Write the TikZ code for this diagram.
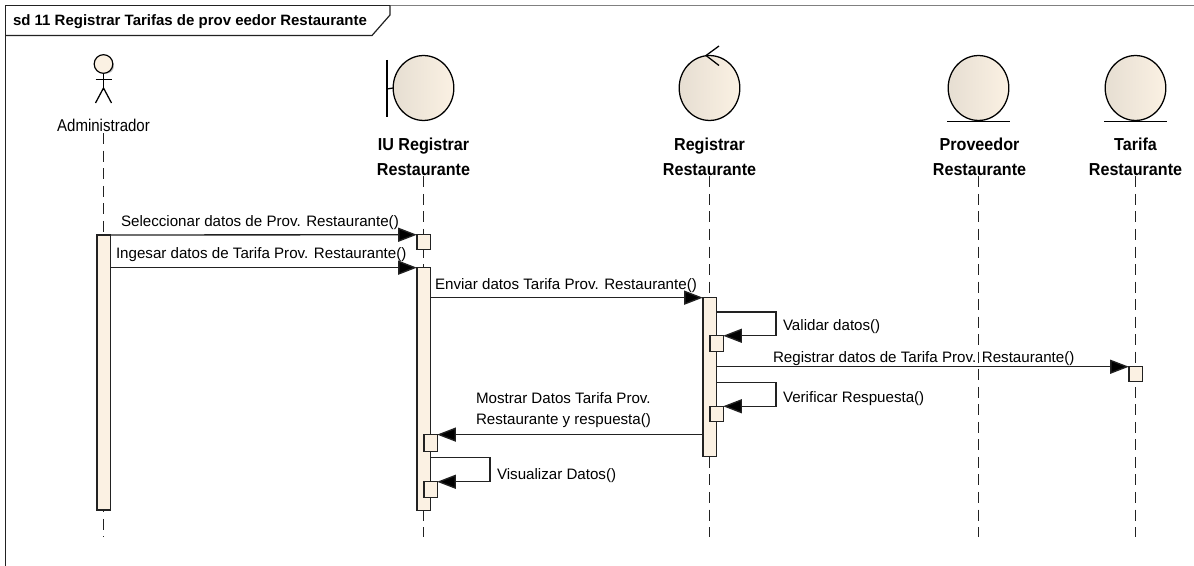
\documentclass[tikz,border=0pt]{standalone}
\usepackage{fontspec}
\setmainfont{Liberation Sans}
\newfontfamily\namefont[FakeStretch=0.93]{Liberation Sans Bold}
\newfontfamily\actfont[FakeStretch=0.88]{Liberation Sans}
\usetikzlibrary{arrows.meta,shapes.geometric,calc}
\definecolor{bodyfill}{HTML}{FBF1E3}
\definecolor{bodyshade}{HTML}{E6DED2}
\definecolor{inkline}{HTML}{222222}
\tikzset{
  x=0.75pt,y=-0.75pt,
  every node/.style={inner sep=0pt,outer sep=0pt},
  framed/.style={draw=inkline,line width=0.9pt},
  lifeline/.style={draw=inkline,line width=1.1pt,dash pattern=on 8.25pt off 4.9pt},
  actbox/.style={draw=inkline,line width=1pt,fill=bodyfill,rectangle,minimum width=10pt},
  msg/.style={draw=inkline,line width=1pt,-{Triangle[length=14pt,width=10.5pt,fill=black]}},
  txt/.style={font=\fontsize{11.35}{16}\selectfont,text=black,anchor=base west},
  elem/.style={draw=black,line width=0.95pt,ellipse,minimum width=45.5pt,minimum height=48.7pt,left color=bodyshade,middle color=bodyfill,right color=bodyfill},
  elemname/.style={font=\namefont\fontsize{13}{18.5}\selectfont,align=center,anchor=north},
  plainline/.style={draw=black,line width=0.95pt},
}
\begin{document}
\begin{tikzpicture}
\useasboundingbox (0,0) rectangle (1194,566);
\fill[white] (0,0) rectangle (1194,566);

% frame
\coordinate (frameTL) at (5.5,5.5);
\coordinate (frameBL) at (5.5,566);
\coordinate (frameTR) at (1194,5.5);
\coordinate (tabA) at (5.5,35.5);
\coordinate (tabB) at (372,35.5);
\coordinate (tabC) at (390,15);
\coordinate (tabD) at (390,5.5);
\draw[framed] (frameBL) -- (frameTL) -- (tabD);
\draw[draw=gray,line width=0.9pt] (tabD) -- (frameTR);
\draw[framed] (tabA) -- (tabB) -- (tabC) -- (tabD);
\node[font=\bfseries\fontsize{11.25}{13}\selectfont,anchor=base west] (title) at (13,26) {sd 11 Registrar Tarifas de prov eedor Restaurante};

% actor
\fill[gray!50] (106.5,66) circle (7.5);
\node[circle,draw=black,line width=0.9pt,fill=bodyfill,minimum size=14pt] (head) at (103.5,64) {};
\coordinate (hip) at (103.5,88);
\coordinate (armL) at (95.5,79.5);
\coordinate (armR) at (111.5,79.5);
\coordinate (footL) at (95.5,103);
\coordinate (footR) at (111.5,103);
\draw[plainline] (head.south) -- (hip);
\draw[plainline] (armL) -- (armR);
\draw[plainline] (footL) -- (hip) -- (footR);
\node[font=\actfont\fontsize{12.8}{15}\selectfont,anchor=base] (admin) at (103.5,132) {Administrador};

% boundary
\node[elem] (iu) at (423.5,88) {};
\coordinate (barT) at (387,60);
\coordinate (barB) at (387,117.5);
\coordinate (barM) at (387,89);
\draw[plainline] (barT) -- (barB);
\draw[plainline] (barM) -- (iu.west);
\node[elemname] (iuName) at (423.5,138) {IU Registrar\\Restaurante};

% control
\node[elem] (ctl) at (709.5,88) {};
\coordinate (ctlTip) at (706,55.5);
\coordinate (ctlU) at (719,46);
\coordinate (ctlD) at (719,65.5);
\draw[plainline] (ctlU) -- (ctlTip) -- (ctlD);
\node[elemname] (ctlName) at (709.5,138) {Registrar\\Restaurante};

% entities
\node[elem] (prov) at (978.5,88) {};
\coordinate (provL) at (947,121.5);
\coordinate (provR) at (1010,121.5);
\draw[plainline] (provL) -- (provR);
\node[elemname] (provName) at (979.5,138) {Proveedor\\Restaurante};

\node[elem] (tar) at (1135.5,88) {};
\coordinate (tarL) at (1104,121.5);
\coordinate (tarR) at (1167,121.5);
\draw[plainline] (tarL) -- (tarR);
\node[elemname] (tarName) at (1135.5,138) {Tarifa\\Restaurante};

% lifelines
\coordinate (aEnd) at (103.5,537);
\coordinate (iEnd) at (423.5,537);
\coordinate (rEnd) at (709.5,537);
\coordinate (pEnd) at (978.5,537);
\coordinate (tEnd) at (1135.5,537);
\draw[lifeline] (admin.south) ++(0,1) -- (aEnd);
\draw[lifeline] (iuName.south) ++(0,1) -- (iEnd);
\draw[lifeline] (ctlName.south) ++(0,1) -- (rEnd);
\draw[lifeline] (provName.south -| prov.south) ++(0,1) -- (pEnd);
\draw[lifeline] (tarName.south) ++(0,1) -- (tEnd);

% activations
\node[actbox,minimum height=206.25pt] (aAct) at (103.5,372.5) {};
\node[actbox,minimum height=10.9pt] (iBox) at (423.5,242) {};
\node[actbox,minimum height=182pt] (iAct) at (423.5,389) {};
\node[actbox,minimum height=119pt] (rAct) at (709.5,377) {};
\node[actbox,minimum height=11.6pt] (rSubA) at (716.5,343.5) {};
\node[actbox,minimum height=11.6pt] (rSubB) at (716.5,414) {};
\node[actbox,minimum height=12.6pt] (iSubA) at (430.5,443) {};
\node[actbox,minimum height=11.6pt] (iSubB) at (430.5,489.5) {};
\node[actbox,minimum height=10.9pt] (tBox) at (1135.5,374) {};

% messages
\coordinate (loopA) at (776,312);
\coordinate (loopB) at (776,382.5);
\coordinate (loopC) at (490,457.5);
\draw[msg] (aAct.north east) -- (iBox.north west);
\draw[msg] (aAct.east |- iAct.north) -- (iAct.north west);
\draw[msg] (iAct.east |- rAct.north) -- (rAct.north west);
\draw[msg] (rAct.east |- loopA) -- (loopA) |- (rSubA.north east);
\draw[msg] (rAct.east |- tBox.north) -- (tBox.north west);
\draw[msg] (rAct.east |- loopB) -- (loopB) |- (rSubB.north east);
\draw[msg] (rAct.west |- iSubA.north) -- (iSubA.north east);
\draw[msg] (iAct.east |- loopC) -- (loopC) |- (iSubB.north east);

% labels
\node[txt] (l1) at (121,226.5) {Seleccionar datos de Prov. Restaurante()};
\node[txt] (l2) at (116,259) {Ingesar datos de Tarifa Prov. Restaurante()};
\node[txt] (l3) at (435,290) {Enviar datos Tarifa Prov. Restaurante()};
\node[txt] (l4) at (783,330) {Validar datos()};
\node[txt] (l5) at (773,362.5) {Registrar datos de Tarifa Prov. Restaurante()};
\node[txt] (l6) at (783,402) {Verificar Respuesta()};
\node[txt,align=left,anchor=north west] (l7) at (476,392.5) {Mostrar Datos Tarifa Prov.\\Restaurante y respuesta()};
\node[txt] (l8) at (497,479.5) {Visualizar Datos()};
\end{tikzpicture}
\end{document}
